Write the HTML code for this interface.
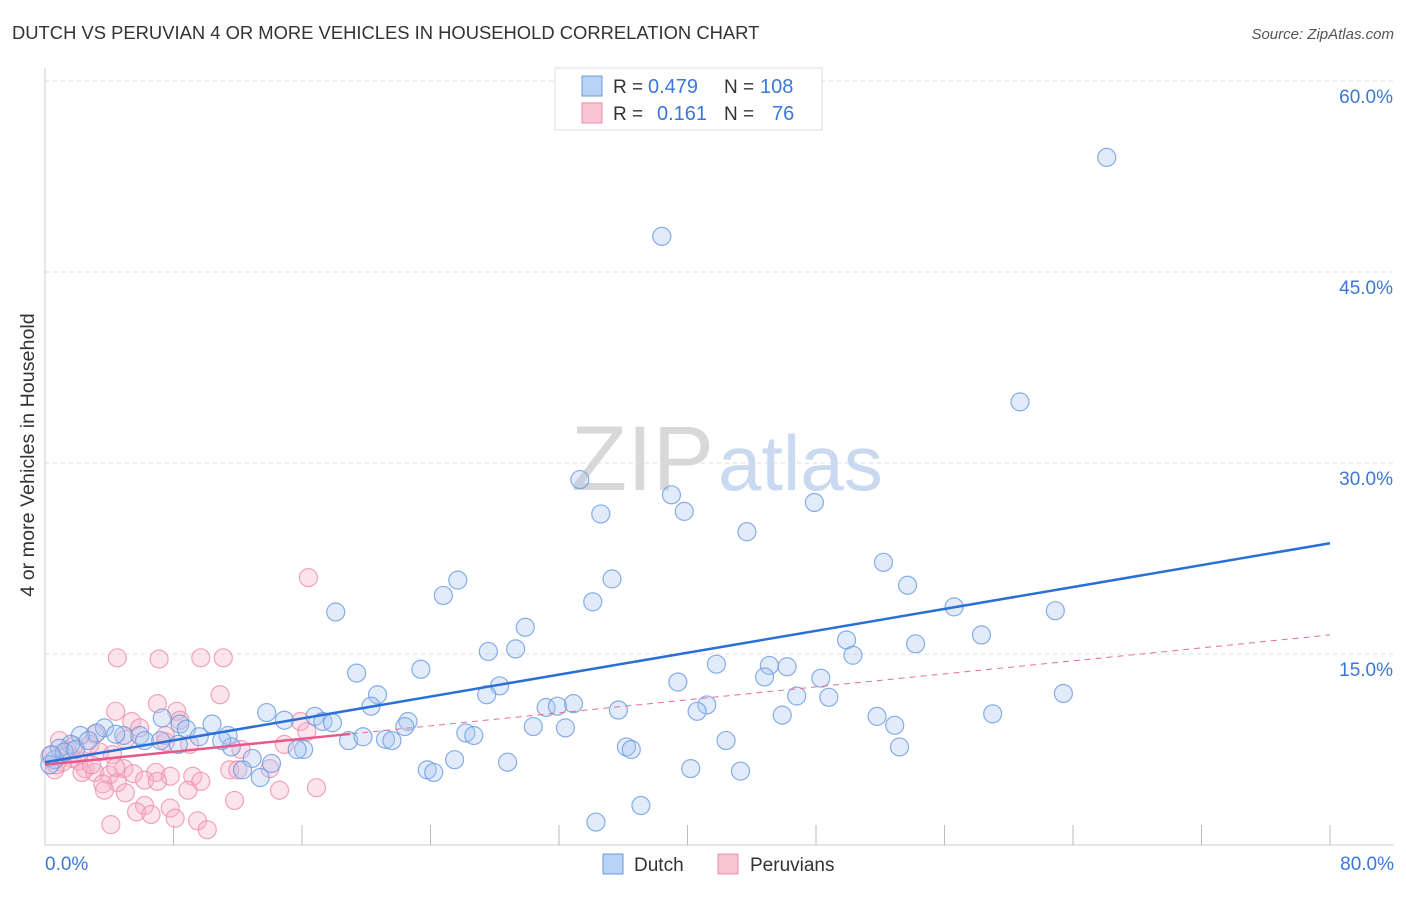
<!DOCTYPE html>
<html><head><meta charset="utf-8"><style>
body{margin:0;background:#fff;font-family:"Liberation Sans",sans-serif;}
svg text{font-family:"Liberation Sans",sans-serif;}
</style></head><body>
<svg id="chart" width="1406" height="892" viewBox="0 0 1406 892" xmlns="http://www.w3.org/2000/svg">
<text x="12" y="39" font-size="18.4" fill="#333">DUTCH VS PERUVIAN 4 OR MORE VEHICLES IN HOUSEHOLD CORRELATION CHART</text>
<text x="1394" y="39" font-size="15" fill="#555" font-style="italic" text-anchor="end">Source: ZipAtlas.com</text>
<text x="34" y="455" font-size="19.7" fill="#333" text-anchor="middle" transform="rotate(-90 34 455)">4 or more Vehicles in Household</text>
<text x="714" y="490" font-size="92" fill="#d8d8d8" text-anchor="end" font-family="Liberation Serif">ZIP</text>
<text x="718" y="490" font-size="78" fill="#c9daf0">atlas</text>
<g id="grid"></g><g id="axes"></g><g id="marks"></g>
<g>
<rect x="555" y="68" width="267" height="62" fill="#fff" stroke="#ddd"/>
<rect x="582" y="76" width="20" height="20" fill="#b9d3f7" stroke="#6a9be0"/>
<rect x="582" y="103" width="20" height="20" fill="#f9c4d3" stroke="#ee8eab"/>
<text x="613" y="93" font-size="19" fill="#333">R =</text>
<text x="648" y="93" font-size="20" fill="#3a78d8">0.479</text>
<text x="724" y="93" font-size="19" fill="#333">N =</text>
<text x="760" y="93" font-size="20" fill="#3a78d8">108</text>
<text x="613" y="120" font-size="19" fill="#333">R =</text>
<text x="657" y="120" font-size="20" fill="#3a78d8">0.161</text>
<text x="724" y="120" font-size="19" fill="#333">N =</text>
<text x="772" y="120" font-size="20" fill="#3a78d8">76</text>
</g>
<g>
<rect x="603" y="854" width="20" height="20" fill="#b9d3f7" stroke="#6a9be0"/>
<text x="634" y="871" font-size="19" fill="#333">Dutch</text>
<rect x="718" y="854" width="20" height="20" fill="#f9c4d3" stroke="#ee8eab"/>
<text x="750" y="871" font-size="19" fill="#333">Peruvians</text>
</g>
</svg>
<script>
const yTicks=[15,30,45,60];
const xTickCount=10;
const dutchX=[66.1,38.4,60.7,33.3,39.0,34.6,39.8,47.9,43.7,52.2,53.7,25.7,24.8,35.3,34.1,18.1,56.6,62.9,58.3,29.9,49.9,50.3,54.2,27.6,29.3,19.4,23.4,41.8,45.1,46.2,44.8,48.3,39.4,28.3,63.4,20.7,27.5,46.8,48.8,20.3,32.9,31.2,31.9,35.7,41.2,40.6,59.0,45.9,51.8,13.8,16.8,10.4,14.9,17.3,17.9,22.6,22.4,52.9,32.4,30.4,26.2,26.7,18.9,19.8,21.2,21.6,36.2,36.5,42.4,53.2,7.3,8.4,8.8,3.7,3.2,4.9,5.9,6.2,9.6,11.4,11.6,11.0,7.2,16.1,15.7,12.9,14.1,12.3,13.4,28.8,25.5,23.8,24.2,40.2,43.3,37.1,34.3,2.2,1.6,0.9,0.6,0.3,1.2,1.9,0.4,2.7,4.4,8.3];
const dutchY=[54.0,47.8,34.8,28.7,27.5,26.0,26.2,26.9,24.6,22.2,20.4,20.8,19.6,20.9,19.1,18.3,18.7,18.4,16.5,17.1,16.1,14.9,15.8,15.2,15.4,13.5,13.8,14.2,14.1,14.0,13.2,13.1,12.8,12.5,11.9,11.8,11.8,11.7,11.6,10.9,11.1,10.8,10.9,10.6,11.0,10.5,10.3,10.2,10.1,10.4,10.1,9.5,9.8,9.7,9.6,9.7,9.3,9.4,9.2,9.3,8.8,8.6,8.2,8.5,8.3,8.2,7.7,7.5,8.2,7.7,9.98,9.5,9.1,9.2,8.8,8.6,8.6,8.2,8.5,8.6,7.7,8.2,8.2,7.5,7.5,6.8,6.4,5.9,5.3,6.5,6.7,5.9,5.7,6.0,5.8,3.1,1.8,8.6,7.9,7.6,6.7,6.3,7.3,7.5,7.1,8.2,8.7,7.9];
const peruX=[16.4,4.5,7.1,9.7,11.1,7.0,8.2,4.4,10.9,5.4,8.4,5.9,3.1,5.0,7.5,9.0,12.2,15.9,14.9,16.3,2.8,3.4,4.2,1.7,1.1,2.5,3.1,4.9,4.0,5.5,6.9,9.2,7.8,11.5,12.0,14.0,4.5,3.6,6.2,7.0,9.7,8.9,5.0,6.2,14.6,16.9,11.8,7.8,8.1,9.5,4.1,5.7,6.6,10.1,3.7,0.6,0.9,1.4,2.1,0.3,2.3,2.9,4.4,7.5,1.8,0.7];
const peruY=[21.0,14.7,14.6,14.7,14.7,11.1,10.5,10.5,11.8,9.7,9.8,9.2,8.7,8.3,8.1,7.9,7.5,9.7,7.9,8.9,7.9,7.3,7.1,6.8,6.5,6.0,5.7,6.0,5.5,5.6,5.7,5.4,5.4,5.9,5.9,6.0,4.9,4.8,5.1,5.0,5.0,4.3,4.1,3.1,4.3,4.5,3.5,2.9,2.1,1.9,1.6,2.6,2.4,1.2,4.3,5.9,8.2,7.4,6.6,7.0,5.7,6.3,6.1,8.6,7.8,6.3];
const dutchTrend=[6.5,23.7];
const peruTrend=[6.3,16.5];
const X0=45,X1=1330,Y0=845,Y60=81;
const sx=v=>X0+(X1-X0)*v/80, sy=v=>Y0-(Y0-Y60)*v/60;
const NS="http://www.w3.org/2000/svg";
function mk(p,t,a){const e=document.createElementNS(NS,t);for(const k in a)e.setAttribute(k,a[k]);p.appendChild(e);return e;}
const grid=document.getElementById('grid'),axes=document.getElementById('axes'),marks=document.getElementById('marks');
yTicks.forEach(v=>{const l=mk(grid,'line',{x1:X0,x2:1394,y1:sy(v),y2:sy(v),stroke:'#ddd','stroke-dasharray':'4,4'});


const t=mk(axes,'text',{x:1393,y:sy(v)+22,'font-size':19,fill:'#3a78d8','text-anchor':'end'});t.textContent=v.toFixed(1)+'%';

});
const ax=mk(axes,'line',{x1:X0,x2:1394,y1:Y0,y2:Y0,stroke:'#ccc'});


const ay=mk(axes,'line',{x1:X0,x2:X0,y1:68,y2:Y0,stroke:'#ccc'});


for(let i=1;i<=xTickCount;i++){const x=sx(i*8);const tk=mk(axes,'line',{x1:x,x2:x,y1:Y0,y2:Y0-20,stroke:'#bbb'});

}
[[0,'start',45],[80,'end',1394]].forEach(([v,a,x])=>{const t=mk(axes,'text',{x:x,y:870,'font-size':19,fill:'#3a78d8','text-anchor':a});t.textContent=v.toFixed(1)+'%';

});
function pts(xs,ys,fill,stroke,name){xs.forEach((x,i)=>{const c=mk(marks,'circle',{cx:sx(x),cy:sy(ys[i]),r:9,fill:fill,'fill-opacity':0.35,stroke:stroke,'stroke-opacity':0.8,'stroke-width':1.2});

});}
pts(peruX,peruY,'#f7b3c8','#ee8eab','peruvian-point');
pts(dutchX,dutchY,'#a8c7f2','#6a9be0','dutch-point');
const pd=mk(marks,'line',{x1:sx(0),y1:sy(peruTrend[0]),x2:sx(80),y2:sy(peruTrend[1]),stroke:'#e86e96','stroke-width':1,'stroke-dasharray':'6,5'});


const f=19/80;
const ps=mk(marks,'line',{x1:sx(0),y1:sy(peruTrend[0]),x2:sx(19),y2:sy(peruTrend[0]+(peruTrend[1]-peruTrend[0])*f),stroke:'#e8588a','stroke-width':2.5});


const dl=mk(marks,'line',{x1:sx(0),y1:sy(dutchTrend[0]),x2:sx(80),y2:sy(dutchTrend[1]),stroke:'#2a6fd6','stroke-width':2.5});


</script>
</body></html>
